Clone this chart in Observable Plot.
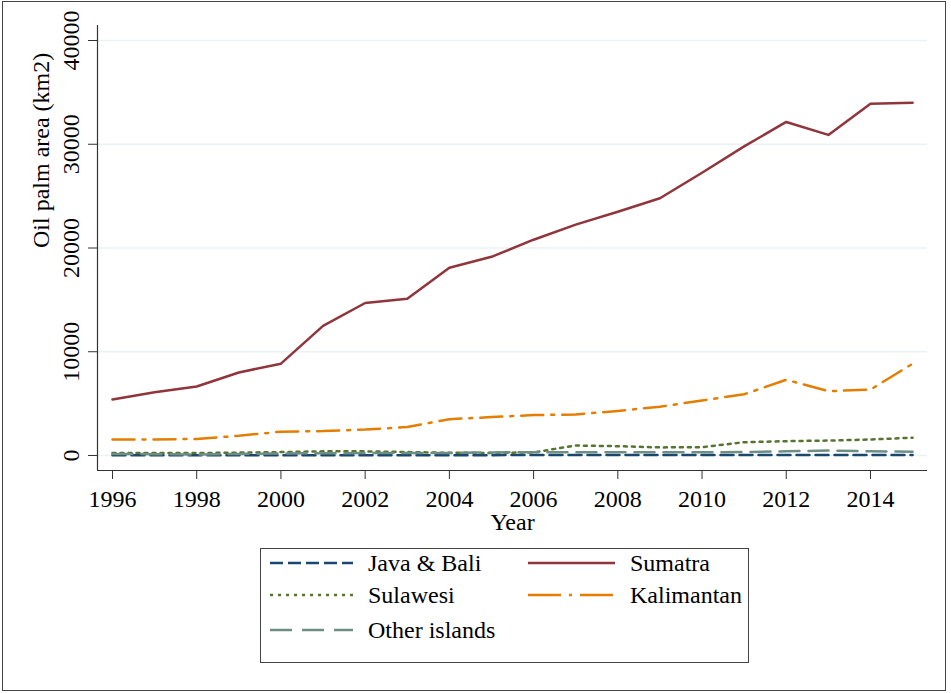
<!DOCTYPE html>
<html><head><meta charset="utf-8">
<script src="https://cdn.jsdelivr.net/npm/d3@7"></script>
<script src="https://cdn.jsdelivr.net/npm/@observablehq/plot@0.6"></script>
<style>
body{margin:0;background:#fff;}
#wrap{position:relative;width:951px;height:693px;background:#fff;font-family:"Liberation Serif",serif;overflow:hidden}
#chart{position:absolute;left:0;top:0}
#frame{position:absolute;left:2px;top:1px;width:942px;height:688px;border:1px solid #444;pointer-events:none}
#legend{position:absolute;left:260px;top:548px;}
</style></head><body>
<div id="wrap"><div id="chart"></div><div id="legend"></div><div id="frame"></div></div>
<script>
const years = [1996,1997,1998,1999,2000,2001,2002,2003,2004,2005,2006,2007,2008,2009,2010,2011,2012,2013,2014,2015];
const javaBali   = [20,25,25,30,30,30,35,35,35,35,40,40,40,40,40,40,40,45,45,45];
const sumatra    = [5400,6100,6650,8000,8850,12500,14700,15100,18100,19150,20800,22250,23500,24800,27250,29800,32150,30900,33900,34000];
const sulawesi   = [250,250,230,280,330,400,400,330,260,250,300,960,900,780,800,1280,1380,1440,1540,1720];
const kalimantan = [1550,1550,1600,1900,2300,2350,2500,2750,3500,3700,3900,3950,4300,4700,5300,5900,7300,6200,6350,8850];
const otherIsl   = [150,130,100,150,200,220,230,240,250,300,320,320,320,320,320,330,400,470,400,370];
const seriesNames = ["Java & Bali","Sumatra","Sulawesi","Kalimantan","Other islands"];
const xTicks = [1996,1998,2000,2002,2004,2006,2008,2010,2012,2014];
const yTicks = [0,10000,20000,30000,40000];

const seriesValues = [javaBali, sumatra, sulawesi, kalimantan, otherIsl];
const seriesColors = ["#1A476F","#90353B","#55752F","#E37E00","#6E8E84"];
const seriesDash = ["13,6", null, "3,5", "22,8,3,8", "20,9"];
const legendDash = ["13,5", null, "3,5", "33,8,3,8", "22,10"];

const xDomain = [1995.644, 2015.354];
const yDomain = [-1446, 41446];

const lineMarks = seriesNames.map((name, k) =>
  Plot.line(years.map((yr, i) => ({year: yr, v: seriesValues[k][i]})), {
    x: "year", y: "v", stroke: seriesColors[k], strokeWidth: 2.5,
    strokeDasharray: seriesDash[k] || undefined
  })
);

const plot = Plot.plot({
  width: 951, height: 540,
  marginLeft: 97, marginRight: 24, marginTop: 25, marginBottom: 70,
  style: {fontFamily: "Liberation Serif", background: "white", color: "#000", overflow: "visible"},
  x: {domain: xDomain, label: null},
  y: {domain: yDomain, label: null},
  marks: [
    Plot.gridY(yTicks, {stroke: "#EAF2F3", strokeOpacity: 1, strokeWidth: 1.5}),
    Plot.ruleX([xDomain[0]], {stroke: "#333", strokeWidth: 1.2}),
    Plot.ruleY([yDomain[0]], {stroke: "#333", strokeWidth: 1.2}),
    Plot.axisX(xTicks, {tickSize: 9, tickPadding: 10, fontSize: 24, tickFormat: d => String(d), label: null, stroke: "#333"}),
    Plot.axisY(yTicks, {tickSize: 9, tickPadding: 10, tickRotate: -90, fontSize: 24, tickFormat: d => String(d), label: null, stroke: "#333"}),
    ...lineMarks,
    Plot.text(["Year"], {frameAnchor: "bottom", dy: 42, lineAnchor: "top", fontSize: 24}),
    Plot.text(["Oil palm area (km2)"], {frameAnchor: "left", dx: -66, rotate: -90, lineAnchor: "top", fontSize: 24})
  ]
});
document.getElementById("chart").appendChild(plot);

// legend
const lg = d3.select("#legend").append("svg").attr("width", 490).attr("height", 116)
  .style("font-family", "Liberation Serif");
lg.append("rect").attr("x", 0.5).attr("y", 0.5).attr("width", 488).attr("height", 114)
  .attr("fill", "white").attr("stroke", "#444").attr("stroke-width", 1);
const rowsY = [15, 47, 82];
const cols = [{x1: 10, x2: 93, tx: 108}, {x1: 268, x2: 355, tx: 370}];
seriesNames.forEach((name, k) => {
  const r = Math.floor(k / 2), c = k % 2;
  const y = rowsY[r], col = cols[c];
  lg.append("line").attr("x1", col.x1).attr("x2", col.x2).attr("y1", y).attr("y2", y)
    .attr("stroke", seriesColors[k]).attr("stroke-width", 2.5)
    .attr("stroke-dasharray", legendDash[k]);
  lg.append("text").attr("x", col.tx).attr("y", y).attr("dy", "0.35em")
    .attr("font-size", 24).attr("fill", "#000").text(name);
});
</script>
</body></html>
